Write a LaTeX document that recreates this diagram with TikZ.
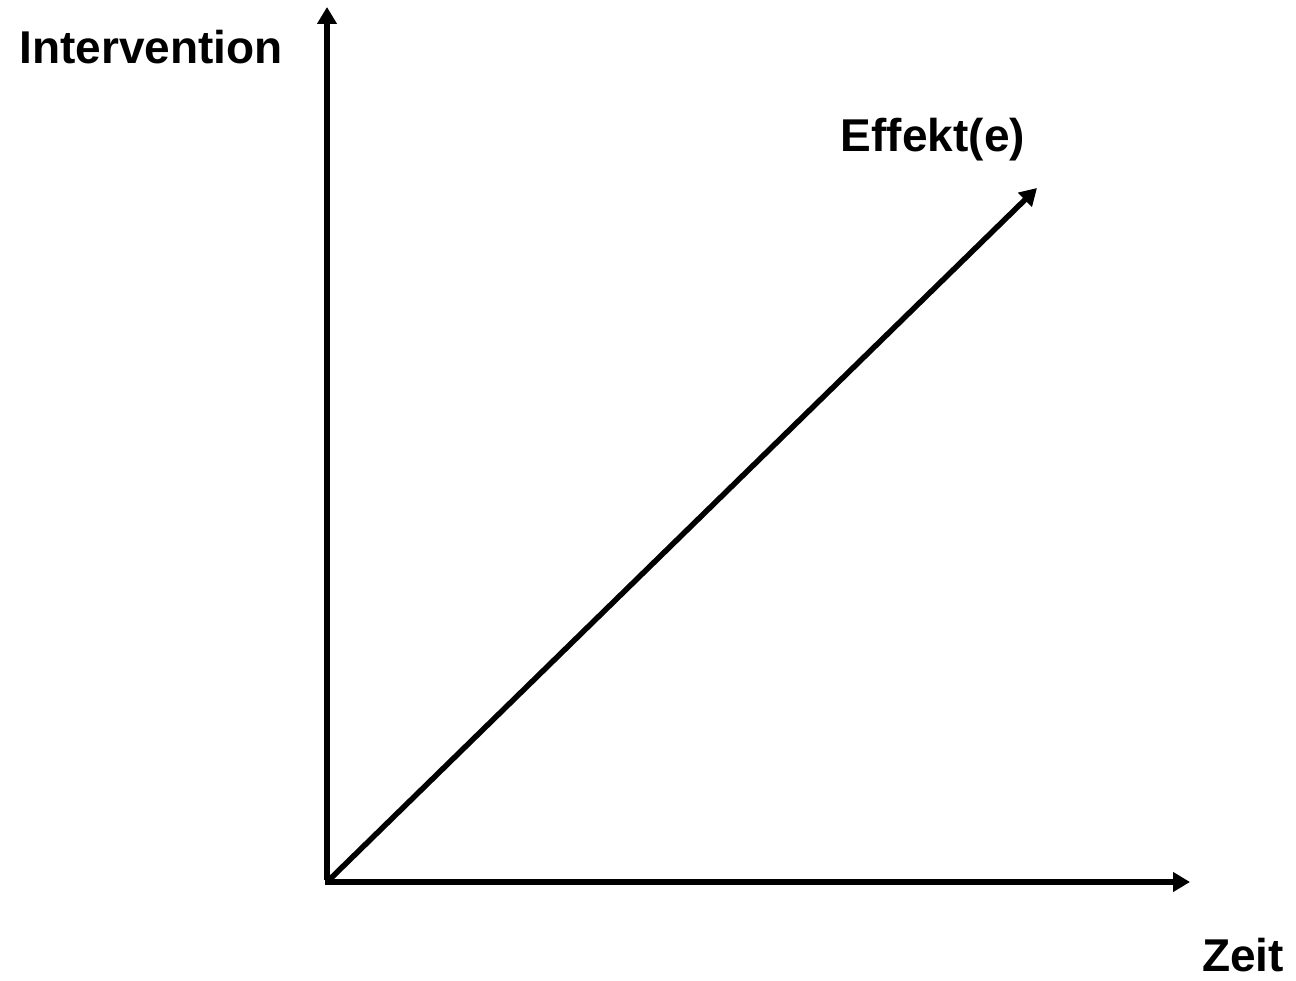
\documentclass[tikz,border=0pt]{standalone}
\usepackage{fontspec}
\setmainfont{Liberation Sans}
\usetikzlibrary{arrows.meta}

\begin{document}
\begin{tikzpicture}[
  x=1pt, y=-1pt,
  lbl/.style={font=\fontsize{46}{52}\selectfont\bfseries, inner sep=0pt},
  axis/.style={-{Triangle[length=17pt, width=19pt]}, line width=5.5pt}
]
\useasboundingbox (0,0) rectangle (1296,981);
\coordinate (O) at (327,882);
\coordinate (ytop) at (327,7);
\coordinate (xend) at (1190,882);
\coordinate (dend) at (1037,188);

\node[lbl] (int) at (151,47) {Intervention};
\node[lbl] (eff) at (933,140) {Effekt(e)};
\node[lbl] (zeit) at (1243,955) {Zeit};

\draw[axis] ([yshift=2.5pt]O) -- (ytop);
\draw[axis] ([xshift=-2.5pt]O) -- (xend);
\draw[axis] (O) -- (dend);
\end{tikzpicture}
\end{document}
